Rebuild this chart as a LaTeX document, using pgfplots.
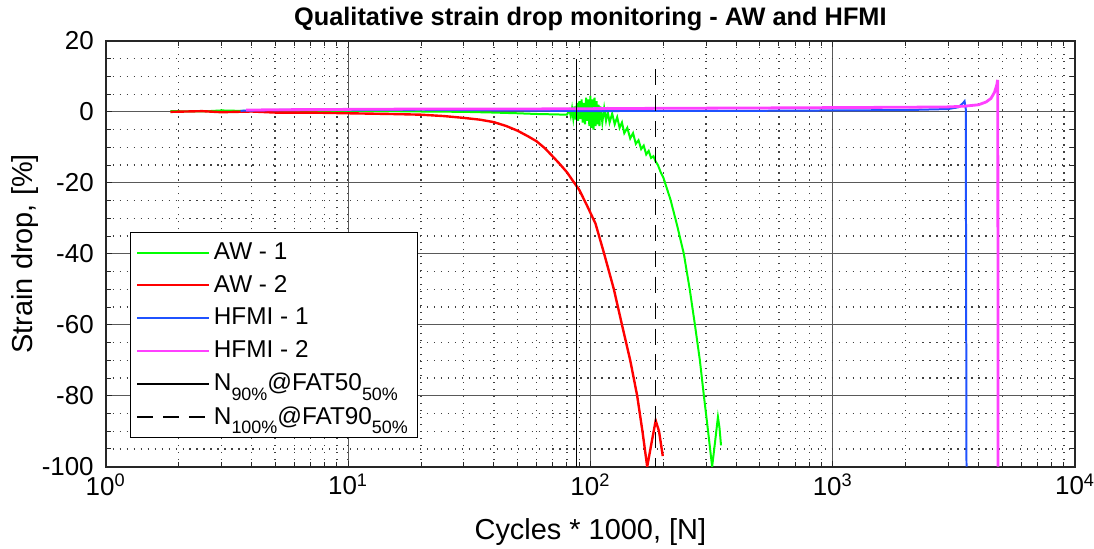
\documentclass[border=0pt]{standalone}
\usepackage{fontspec}
\setmainfont{Liberation Sans}
\usepackage{pgfplots}
\pgfplotsset{compat=1.18}
\usetikzlibrary{calc}
\definecolor{awone}{rgb}{0,1,0}
\definecolor{awtwo}{rgb}{1,0,0}
\definecolor{hfone}{rgb}{0.12,0.32,1}
\definecolor{hftwo}{rgb}{1,0.25,1}
\newcommand{\lsub}[1]{\raisebox{-0.75ex}{\fontsize{9}{10}\selectfont #1}}
\begin{document}
\begin{tikzpicture}
\begin{axis}[
  name=ax,
  scale only axis,
  width=486pt, height=213.5pt,
  xmode=log, xmin=1, xmax=10000,
  ymin=-100, ymax=20,
  xtick={1,10,100,1000,10000},
  xticklabels={10\textsuperscript{0},10\textsuperscript{1},10\textsuperscript{2},10\textsuperscript{3},10\textsuperscript{4}},
  ytick={-100,-80,-60,-40,-20,0,20},
  yticklabels={-100,-80,-60,-40,-20,0,20},
  minor ytick={-95,-90,-85,-75,-70,-65,-55,-50,-45,-35,-30,-25,-15,-10,-5,5,10,15},
  grid=both,
  major grid style={black!65, line width=0.55pt},
  minor grid style={black!75, line width=0.6pt, dash pattern=on 0.6pt off 2.9pt},
  tick align=inside,
  major tick length=3pt, minor tick length=2.5pt,
  tick style={black!85, line width=0.5pt},
  axis line style={black!85, line width=0.9pt},
  ticklabel style={font=\fontsize{13}{15}\selectfont},
  yticklabel style={xshift=-2.5pt},
  /pgf/number format/assume math mode=true,
  title={\bfseries Qualitative strain drop monitoring - AW and HFMI},
  title style={at={(0.5,1)}, anchor=base, yshift=1.5pt, font=\fontsize{12.7}{15}\selectfont},
  xlabel={Cycles * 1000, [N]},
  xlabel style={at={(0.5,0)}, anchor=base, yshift=-36.5pt, font=\fontsize{14.5}{17}\selectfont},
  ylabel={Strain drop, [\%]},
  ylabel style={at={(axis description cs:-0.0833,0.5)}, anchor=center, rotate=0, font=\fontsize{14.5}{17}\selectfont},
  legend style={at={(rel axis cs:0.0247,0.5504)}, anchor=north west, draw=black, line width=0.5pt, fill=white,
    font=\fontsize{12.2}{14}\selectfont, inner xsep=3pt, inner ysep=3pt, row sep=2.4pt, cells={anchor=west}},
  legend cell align=left,
  legend image code/.code={\draw[#1, line width=1pt] (0pt,0pt) -- (36pt,0pt);},
]
% AW - 1
\addplot[awone, line width=1pt] coordinates {
(1.85,0.2) (2.5,0.1) (3,0.4) (4,0.2) (5,0.5) (7,0.3) (10,0.3) (15,0.2) (20,0.1) (30,0) (40,-0.2) (50,-0.4) (60,-0.6) (70,-0.7) (80,-0.8)
(82,0.5) (83,-1.2) (84,1) (85,-1.8) (86,1.5) (87,-2.2) (88,2.5) (89,-2.5) (90,3) (91,-2) (92,3.5) (93,-3) (94,2.5) (95,-3.5) (96,4) (97,-2.5) (98,3.5) (99,-4) (100,4.5) (101,-4.5) (102,3.5) (103,-5) (104,4) (105,-4) (106,3) (107,-3.5) (108,2) (109,-4) (110,1.5) (112,-3) (114,1) (116,-2.5) (118,0) (120,-3) (123,-0.5) (126,-3.5) (129,-1.5) (132,-4.5) (135,-3) (138,-6) (142,-4.5) (146,-7.5) (150,-6) (154,-9) (158,-8) (162,-10.5) (166,-9.5) (170,-12) (174,-11) (178,-13) (182,-12.5) (186,-14) (190,-15) (195,-17) (200,-18.5)
(214,-24.7) (228,-32) (243,-40) (257,-50) (270,-60) (283,-70) (294,-80) (306,-90) (318,-100) (327,-93) (336,-86) (341,-89) (346,-94)
};
\addlegendentry{AW - 1}
% AW - 2
\addplot[awtwo, line width=1.2pt] coordinates {
(1.85,0) (2.5,0.2) (3,-0.1) (4,0.1) (5,-0.2) (7,-0.2) (10,-0.4) (15,-0.6) (20,-0.8) (25,-1.2) (30,-1.7) (35,-2.2) (40,-2.9) (45,-4) (50,-5.3) (55,-6.8) (60,-8.3) (65,-10.3) (70,-12.6) (75,-14.8) (80,-17) (85,-19.6) (90,-22) (97,-26.5) (105,-31.5) (114,-40) (125,-50) (135,-60) (146,-70) (156,-80) (164,-90) (171.6,-100) (178,-94) (186,-87) (192,-90) (199,-97)
};
\addlegendentry{AW - 2}
% HFMI - 1
\addplot[hfone, line width=1pt] coordinates {
(3.6,0.3) (5,0.5) (7,0.7) (10,0.5) (20,0.6) (50,0.4) (100,0.2) (200,0.3) (500,0.3) (1000,0.4) (2000,0.5) (3000,0.8) (3300,1.3) (3450,2.5) (3500,3) (3540,0.8) (3565,-100)
};
\addlegendentry{HFMI - 1}
% HFMI - 2
\addplot[hftwo, line width=1.4pt] coordinates {
(3.8,0.5) (5,0.6) (10,0.7) (20,0.8) (50,0.8) (100,0.9) (200,1) (500,1.1) (1000,1.2) (2000,1.3) (3000,1.4) (3500,1.6) (4000,2) (4300,2.8) (4500,3.8) (4650,5.5) (4750,7.5) (4790,9) (4800,5) (4810,-100)
};
\addlegendentry{HFMI - 2}
\addplot[black, line width=0.5pt] coordinates {(87.3,15) (87.3,-100)};
\addlegendentry{N\lsub{90\%}@FAT50\lsub{50\%}}
\addplot[black, line width=0.5pt, dash pattern=on 8pt off 5pt] coordinates {(186,12) (186,-100)};
\addlegendentry{N\lsub{100\%}@FAT90\lsub{50\%}}
\end{axis}
\pgfresetboundingbox
\path[use as bounding box] ($(ax.south west)+(-53pt,-41pt)$) rectangle ($(ax.north east)+(9.5pt,20.5pt)$);
\end{tikzpicture}
\end{document}
